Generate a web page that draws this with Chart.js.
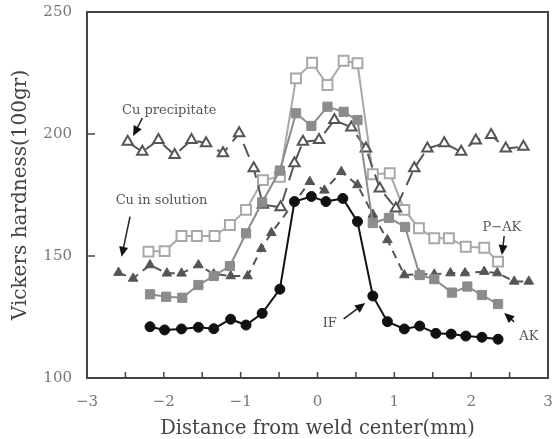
<!DOCTYPE html>
<html>
<head>
<meta charset="utf-8">
<script src="https://cdn.jsdelivr.net/npm/chart.js@4.4.1/dist/chart.umd.min.js"></script>
<style>
  html, body { margin: 0; padding: 0; background: #fff; }
</style>
</head>
<body>
<canvas id="graficoDureza" width="557" height="439"></canvas>
<script>
// Distancia al centro de la soldadura (mm) y dureza Vickers
const xIF = [-2.18, -1.99, -1.77, -1.55, -1.35, -1.13, -0.93, -0.72, -0.49, -0.30, -0.08, 0.11, 0.33, 0.52, 0.72, 0.91, 1.13, 1.33, 1.54, 1.74, 1.93, 2.14, 2.35];
const yIF = [121.0, 119.7, 120.1, 120.8, 120.2, 124.1, 121.7, 126.5, 136.4, 172.3, 174.4, 172.3, 173.6, 164.1, 133.6, 123.1, 120.1, 121.3, 118.3, 118.0, 117.2, 116.7, 115.9];

const xAK = [-2.18, -1.97, -1.76, -1.55, -1.35, -1.14, -0.93, -0.72, -0.49, -0.28, -0.08, 0.13, 0.34, 0.52, 0.72, 0.93, 1.14, 1.33, 1.52, 1.75, 1.95, 2.14, 2.35];
const yAK = [134.3, 133.3, 132.9, 138.1, 141.8, 145.9, 159.3, 172.0, 185.0, 208.5, 203.3, 211.2, 209.1, 205.7, 163.5, 165.6, 161.9, 142.2, 140.5, 135.0, 137.5, 134.0, 130.3];

const xPAK = [-2.20, -1.99, -1.77, -1.57, -1.34, -1.14, -0.93, -0.71, -0.49, -0.28, -0.07, 0.13, 0.34, 0.52, 0.72, 0.94, 1.13, 1.32, 1.52, 1.71, 1.93, 2.17, 2.35];
const yPAK = [151.8, 152.0, 158.2, 158.2, 158.2, 162.7, 168.9, 181.1, 182.5, 222.8, 229.2, 220.1, 230.0, 229.0, 183.5, 183.9, 168.9, 161.4, 157.3, 157.3, 153.8, 153.4, 147.7];

const xCuPrec = [-2.47, -2.28, -2.07, -1.86, -1.64, -1.45, -1.23, -1.02, -0.83, -0.71, -0.48, -0.30, -0.19, 0.02, 0.22, 0.44, 0.63, 0.81, 1.02, 1.26, 1.43, 1.65, 1.87, 2.06, 2.26, 2.45, 2.68];
const yCuPrec = [196.8, 192.7, 197.5, 191.4, 197.5, 196.2, 192.1, 200.3, 186.0, 171.0, 170.0, 188.0, 196.8, 197.5, 205.7, 202.7, 194.1, 177.7, 169.5, 186.0, 194.1, 196.2, 192.7, 197.3, 199.6, 194.1, 194.8];

const xCuSol = [-2.59, -2.40, -2.18, -1.96, -1.77, -1.55, -1.35, -1.13, -0.91, -0.73, -0.60, -0.10, 0.09, 0.31, 0.52, 0.72, 0.91, 1.13, 1.32, 1.52, 1.73, 1.92, 2.17, 2.34, 2.56, 2.75];
const yCuSol = [143.2, 140.8, 146.3, 142.9, 142.9, 146.3, 142.6, 141.8, 141.8, 153.0, 159.5, 180.4, 176.9, 184.5, 179.1, 167.0, 156.6, 142.2, 142.6, 142.5, 143.0, 143.0, 143.6, 143.0, 139.6, 139.6];

const ticksX = [-3, -2, -1, 0, 1, 2, 3];
const ticksY = [100, 150, 200, 250];

// Rotulos y flechas en coordenadas de datos
const rotulos = [
    { texto: 'Cu precipitate', x: -1.93, y: 209.4 },
    { texto: 'Cu in solution', x: -2.03, y: 172.5 },
    { texto: 'P\u2212AK', x: 2.40, y: 161.5 },
    { texto: 'AK', x: 2.75, y: 116.8 },
    { texto: 'IF', x: 0.16, y: 122.1 }
];
const flechas = [
    { desde: [-2.28, 206.5], hasta: [-2.40, 199.2] },
    { desde: [-2.44, 166.1], hasta: [-2.55, 149.7] },
    { desde: [2.43, 158.2], hasta: [2.40, 150.4] },
    { desde: [2.56, 123.0], hasta: [2.43, 126.6] },
    { desde: [0.34, 124.2], hasta: [0.62, 130.7] }
];

const fuente = "'DejaVu Serif', serif";
const aPuntos = (xs, ys) => xs.map((x, i) => ({ x: x, y: ys[i] }));

const marcoYRotulos = {
    id: 'marcoYRotulos',
    afterDraw(chart) {
        const { ctx, chartArea: a, scales: { x, y } } = chart;
        ctx.save();
        // marco
        ctx.strokeStyle = '#444';
        ctx.lineWidth = 2;
        ctx.strokeRect(a.left, a.top, a.right - a.left, a.bottom - a.top);
        // marcas hacia adentro
        ctx.lineWidth = 1.5;
        ctx.beginPath();
        for (let v = -2.5; v <= 2.5; v += 0.5) {
            const px = x.getPixelForValue(v);
            ctx.moveTo(px, a.bottom);
            ctx.lineTo(px, a.bottom - 6);
        }
        [150, 200].forEach(v => {
            const py = y.getPixelForValue(v);
            ctx.moveTo(a.left, py);
            ctx.lineTo(a.left + 8, py);
        });
        ctx.stroke();

        // flechas
        ctx.strokeStyle = '#222';
        ctx.fillStyle = '#111';
        ctx.lineWidth = 1.5;
        flechas.forEach(f => {
            const x0 = x.getPixelForValue(f.desde[0]), y0 = y.getPixelForValue(f.desde[1]);
            const x1 = x.getPixelForValue(f.hasta[0]), y1 = y.getPixelForValue(f.hasta[1]);
            const ang = Math.atan2(y1 - y0, x1 - x0);
            ctx.beginPath();
            ctx.moveTo(x0, y0);
            ctx.lineTo(x1 - 6 * Math.cos(ang), y1 - 6 * Math.sin(ang));
            ctx.stroke();
            ctx.beginPath();
            ctx.moveTo(x1, y1);
            ctx.lineTo(x1 - 10 * Math.cos(ang) + 4.5 * Math.sin(ang), y1 - 10 * Math.sin(ang) - 4.5 * Math.cos(ang));
            ctx.lineTo(x1 - 10 * Math.cos(ang) - 4.5 * Math.sin(ang), y1 - 10 * Math.sin(ang) + 4.5 * Math.cos(ang));
            ctx.closePath();
            ctx.fill();
        });

        // textos
        ctx.fillStyle = '#555';
        ctx.font = '13px ' + fuente;
        ctx.textAlign = 'center';
        ctx.textBaseline = 'middle';
        rotulos.forEach(r => {
            ctx.fillText(r.texto, x.getPixelForValue(r.x), y.getPixelForValue(r.y));
        });
        ctx.restore();
    }
};

document.addEventListener('DOMContentLoaded', function() {
    const ctx = document.getElementById('graficoDureza').getContext('2d');

    const series = [
        {
            label: 'IF', data: aPuntos(xIF, yIF),
            borderColor: '#111', backgroundColor: '#111', borderWidth: 2,
            pointStyle: 'circle', pointRadius: 5, pointBorderWidth: 1
        },
        {
            label: 'AK', data: aPuntos(xAK, yAK),
            borderColor: '#8c8c8c', backgroundColor: '#8c8c8c', borderWidth: 2,
            pointStyle: 'rect', pointRadius: 6.5, pointBorderWidth: 1
        },
        {
            label: 'Cu in solution', data: aPuntos(xCuSol, yCuSol),
            borderColor: '#555', backgroundColor: '#555', borderWidth: 2, borderDash: [8, 6],
            pointStyle: 'triangle', pointRadius: 5.5, pointBorderWidth: 1
        },
        {
            label: 'Cu precipitate', data: aPuntos(xCuPrec, yCuPrec),
            borderColor: '#555', backgroundColor: '#fff', borderWidth: 2, borderDash: [14, 8],
            pointStyle: 'triangle', pointRadius: 6, pointBorderWidth: 2
        },
        {
            label: 'P-AK', data: aPuntos(xPAK, yPAK),
            borderColor: '#a8a8a8', backgroundColor: '#fff', borderWidth: 2,
            pointStyle: 'rect', pointRadius: 7, pointBorderWidth: 2
        }
    ];
    series.forEach(s => { s.showLine = true; s.fill = false; s.tension = 0; });

    const estiloTicks = { font: { family: fuente, size: 15 }, color: '#777' };

    new Chart(ctx, {
        type: 'scatter',
        data: { datasets: series },
        options: {
            responsive: false,
            animation: false,
            layout: { padding: { top: 12, right: 8, left: 0, bottom: 0 } },
            plugins: { legend: { display: false }, tooltip: { enabled: false } },
            scales: {
                x: {
                    type: 'linear', min: -3, max: 3,
                    afterFit: s => { s.height = 61; s.paddingLeft = 0; s.paddingRight = 0; },
                    afterBuildTicks: s => { s.ticks = ticksX.map(v => ({ value: v })); },
                    grid: { display: true, drawOnChartArea: false, drawTicks: false },
                    border: { display: true, color: '#444', width: 2 },
                    ticks: Object.assign({ padding: 15, callback: v => (v < 0 ? '\u2212' + Math.abs(v) : '' + v) }, estiloTicks),
                    title: { display: true, text: 'Distance from weld center(mm)', color: '#444',
                             font: { family: fuente, size: 19.5 }, padding: { top: 0, bottom: -2 } }
                },
                y: {
                    type: 'linear', min: 100, max: 250,
                    afterFit: s => { s.width = 87; s.paddingTop = 0; s.paddingBottom = 0; },
                    afterBuildTicks: s => { s.ticks = ticksY.map(v => ({ value: v })); },
                    grid: { display: true, drawOnChartArea: false, drawTicks: false },
                    border: { display: true, color: '#444', width: 2 },
                    ticks: Object.assign({ padding: 15 }, estiloTicks),
                    title: { display: true, text: 'Vickers hardness(100gr)', color: '#444',
                             font: { family: fuente, size: 20 }, padding: { top: 9, bottom: 0 } }
                }
            }
        },
        plugins: [marcoYRotulos]
    });
});
</script>
</body>
</html>
